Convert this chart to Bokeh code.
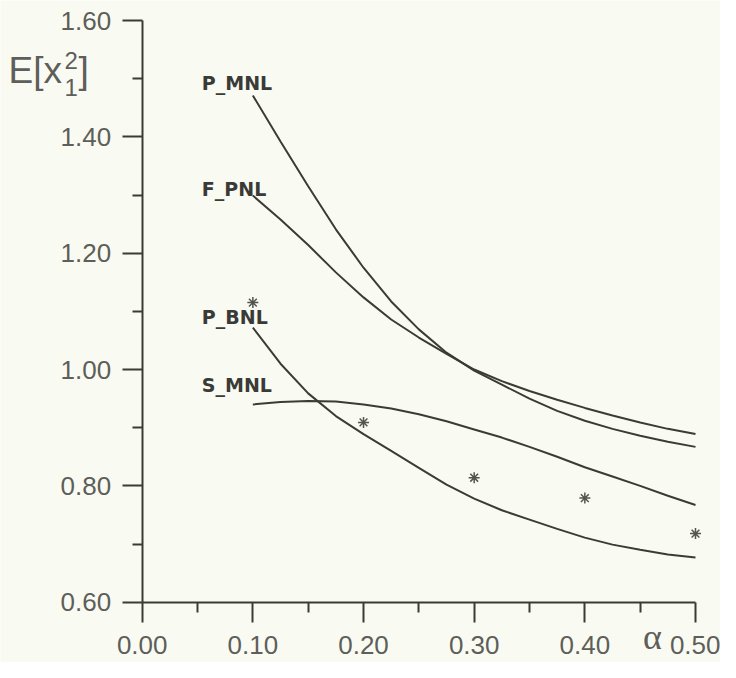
from bokeh.plotting import figure
from bokeh.models import Range1d, FixedTicker, Label, LinearAxis
from bokeh.core.properties import value
from bokeh.embed import file_html
from bokeh.resources import INLINE

# ---------------- data ----------------
alpha_grid = [0.100, 0.125, 0.150, 0.175, 0.200, 0.225, 0.250, 0.275, 0.300,
              0.325, 0.350, 0.375, 0.400, 0.425, 0.450, 0.475, 0.500]
p_mnl = [1.471, 1.392, 1.315, 1.241, 1.175, 1.117, 1.069, 1.029, 0.998,
         0.974, 0.950, 0.929, 0.912, 0.898, 0.886, 0.876, 0.867]
f_pnl = [1.299, 1.258, 1.214, 1.167, 1.124, 1.086, 1.055, 1.027, 1.000,
         0.980, 0.963, 0.948, 0.934, 0.921, 0.909, 0.898, 0.889]
p_bnl = [1.072, 1.010, 0.959, 0.920, 0.889, 0.860, 0.831, 0.802, 0.778,
         0.758, 0.742, 0.726, 0.711, 0.699, 0.690, 0.682, 0.677]
s_mnl = [0.940, 0.944, 0.946, 0.945, 0.940, 0.933, 0.923, 0.911, 0.897,
         0.883, 0.867, 0.850, 0.832, 0.816, 0.800, 0.783, 0.767]
series_names = ["P_MNL", "F_PNL", "P_BNL", "S_MNL"]

sim_alpha = [0.1, 0.2, 0.3, 0.4, 0.5]
sim_values = [1.115, 0.909, 0.814, 0.779, 0.718]

x_ticks = [0.0, 0.1, 0.2, 0.3, 0.4, 0.5]
x_tick_labels = ["0.00", "0.10", "0.20", "0.30", "0.40", "0.50"]
x_minor = [0.05, 0.15, 0.25, 0.35, 0.45]
y_ticks = [0.6, 0.8, 1.0, 1.2, 1.4, 1.6]
y_tick_labels = ["0.60", "0.80", "1.00", "1.20", "1.40", "1.60"]
y_minor = [0.7, 0.9, 1.1, 1.3, 1.5]

# ---------------- layout / styling ----------------
W, H = 720, 662
XA, XB = 0.0, 0.5          # axis extent
YA, YB = 0.6, 1.6
XA_PX, XB_PX = 141.7, 695.0  # screen position of axis ends
YB_PX, YA_PX = 20.0, 601.7

sx = (XB_PX - XA_PX) / (XB - XA)
sy = (YA_PX - YB_PX) / (YB - YA)
x_range = Range1d(XA - XA_PX / sx, XA + (W - XA_PX) / sx)
y_range = Range1d(YA - (H - YA_PX) / sy, YB + YB_PX / sy)


def px2x(px):
    return XA + (px - XA_PX) / sx


def py2y(py):
    return YB - (py - YB_PX) / sy


BG = "#f9fbf2"
INK = "#3b3b34"
TXT = "#5e5e5a"

p = figure(width=W, height=H, output_backend="svg", toolbar_location=None,
           x_range=x_range, y_range=y_range, title=None,
           x_axis_location=None, y_axis_location=None,
           min_border=0, min_border_left=0, min_border_right=0,
           min_border_top=0, min_border_bottom=0)
p.background_fill_color = BG
p.border_fill_color = BG
p.outline_line_color = None
p.grid.visible = False

xaxis = LinearAxis(fixed_location=YA, bounds=(XA, XB))
yaxis = LinearAxis(fixed_location=XA, bounds=(YA, YB))
p.add_layout(xaxis, "below")
p.add_layout(yaxis, "left")

for ax, ticks, minor, labels in ((xaxis, x_ticks, x_minor, x_tick_labels),
                                 (yaxis, y_ticks, y_minor, y_tick_labels)):
    ax.ticker = FixedTicker(ticks=ticks, minor_ticks=minor)
    ax.major_label_overrides = {t: l for t, l in zip(ticks, labels)}
    ax.axis_line_color = INK
    ax.axis_line_width = 2
    ax.major_tick_line_color = INK
    ax.major_tick_line_width = 2
    ax.minor_tick_line_color = INK
    ax.minor_tick_line_width = 2
    ax.major_tick_in = 0
    ax.major_tick_out = 20
    ax.minor_tick_in = 0
    ax.minor_tick_out = 10
    ax.major_label_text_font = "Liberation Sans"
    ax.major_label_text_font_size = "26px"
    ax.major_label_text_color = TXT

xaxis.major_label_standoff = 14
yaxis.major_label_standoff = 11

series = [p_mnl, f_pnl, p_bnl, s_mnl]
label_dy = [-13, -7, -11, -19]
for name, ys, dy in zip(series_names, series, label_dy):
    p.line(alpha_grid, ys, line_color=INK, line_width=2)
    p.text(x=[alpha_grid[0]], y=[ys[0]], text=[name], text_align="left",
           text_baseline="alphabetic", x_offset=-51, y_offset=dy,
           text_font=value("DejaVu Sans"), text_font_style="bold",
           text_font_size="19px", text_color="#3a3a36")

p.scatter(sim_alpha, sim_values, marker="asterisk", size=11,
          line_color="#55554f", line_width=1.5)

# axis titles
p.add_layout(Label(x=px2x(8), y=py2y(70), text="E[x", text_font="Liberation Sans",
                   text_font_size="37px", text_color=TXT, text_align="left",
                   text_baseline="alphabetic"))
p.add_layout(Label(x=px2x(64), y=py2y(60), text="2", text_font="Liberation Sans",
                   text_font_size="24px", text_color=TXT, text_align="left",
                   text_baseline="alphabetic"))
p.add_layout(Label(x=px2x(64), y=py2y(87), text="1", text_font="Liberation Sans",
                   text_font_size="24px", text_color=TXT, text_align="left",
                   text_baseline="alphabetic"))
p.add_layout(Label(x=px2x(78), y=py2y(70), text="]", text_font="Liberation Sans",
                   text_font_size="37px", text_color=TXT, text_align="left",
                   text_baseline="alphabetic"))
p.add_layout(Label(x=px2x(652), y=py2y(636), text="α", text_font="Liberation Serif",
                   text_font_size="36px", text_color=TXT, text_align="center",
                   text_baseline="alphabetic"))

open("out.html", "w").write(file_html(p, INLINE))
